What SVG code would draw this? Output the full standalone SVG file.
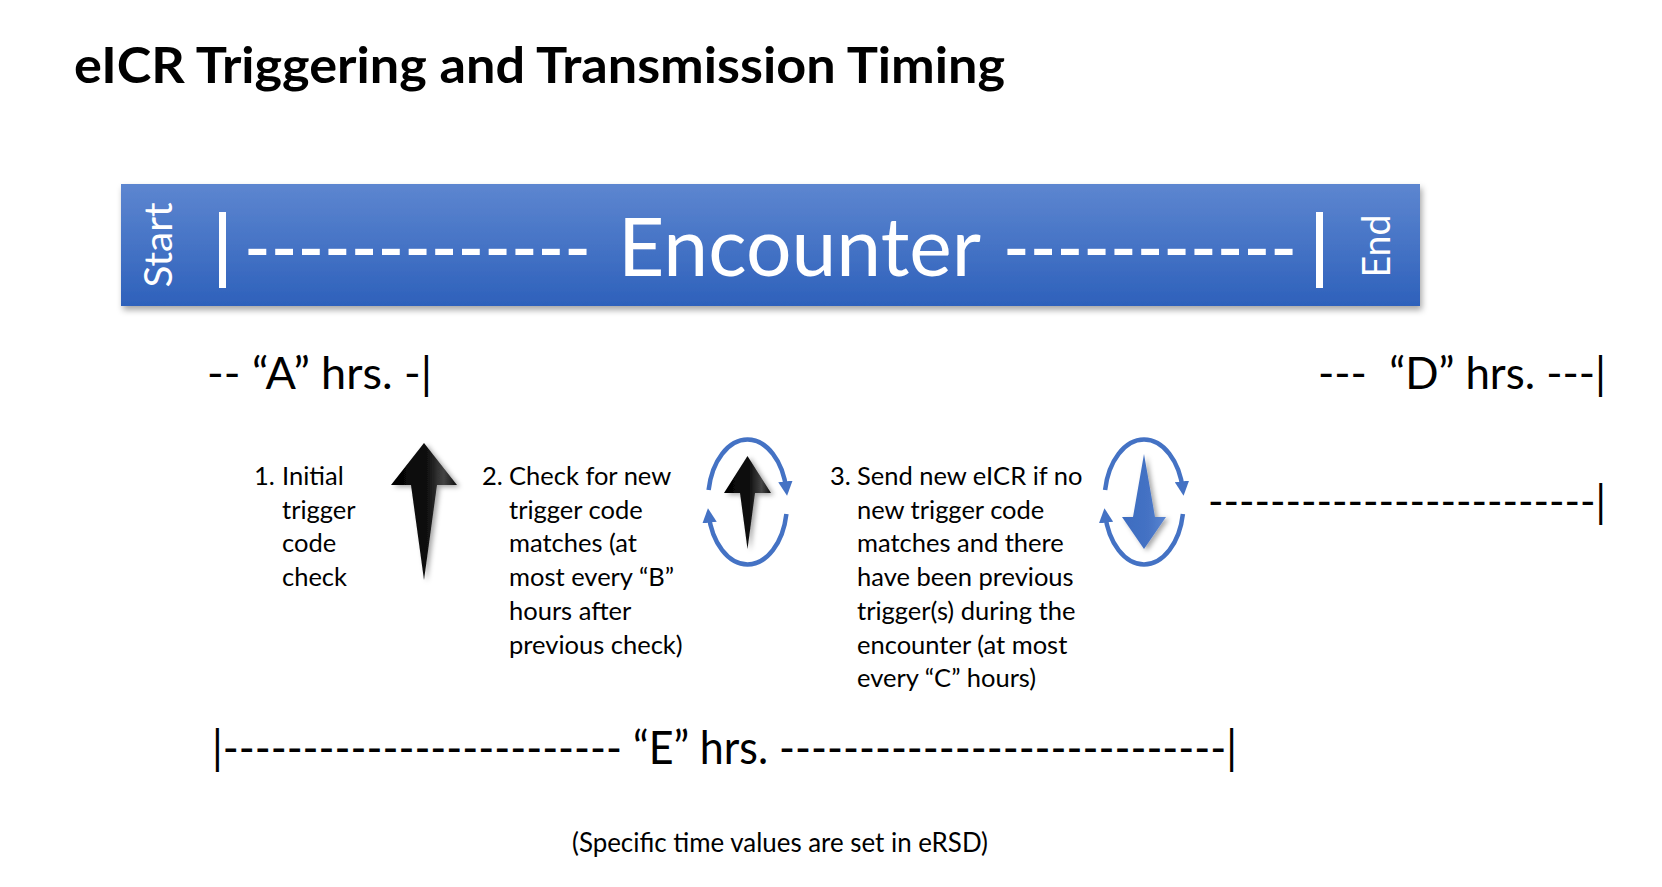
<svg xmlns="http://www.w3.org/2000/svg" width="1662" height="887" viewBox="0 0 1662 887">
<defs>
  <linearGradient id="barGrad" x1="0" y1="0" x2="0" y2="1">
    <stop offset="0" stop-color="#5d86d0"/>
    <stop offset="1" stop-color="#2e61bb"/>
  </linearGradient>
  <linearGradient id="blackGrad" x1="0" y1="0" x2="1" y2="0">
    <stop offset="0" stop-color="#000"/>
    <stop offset="0.55" stop-color="#111"/>
    <stop offset="0.8" stop-color="#444"/>
    <stop offset="1" stop-color="#111"/>
  </linearGradient>
  <linearGradient id="blueGrad" x1="0" y1="0" x2="1" y2="0">
    <stop offset="0" stop-color="#3d6cc0"/>
    <stop offset="0.6" stop-color="#4472c4"/>
    <stop offset="1" stop-color="#5b86d2"/>
  </linearGradient>
  <filter id="shadow" x="-10%" y="-20%" width="120%" height="150%">
    <feDropShadow dx="2" dy="4" stdDeviation="3" flood-color="#000" flood-opacity="0.35"/>
  </filter>
  <filter id="ashadow" x="-50%" y="-20%" width="200%" height="140%">
    <feDropShadow dx="3" dy="2" stdDeviation="2.5" flood-color="#000" flood-opacity="0.35"/>
  </filter>
  <marker id="cyc" viewBox="0 0 10 10" refX="6" refY="5" markerWidth="3.2" markerHeight="3.2" orient="auto" markerUnits="strokeWidth">
    <path d="M0,0 L10,5 L0,10 z" fill="#4472c4"/>
  </marker>
  <style>
    .t { font-family: Lato, "Liberation Sans", sans-serif; fill: #000; }
    .w { font-family: Lato, "Liberation Sans", sans-serif; fill: #fff; }
    .body { font-size: 25.5px; }
    .big { font-size: 44px; }
    .cyc { fill: none; stroke: #4472c4; stroke-width: 4.5; marker-end: url(#cyc); }
  </style>
</defs>
<rect width="1662" height="887" fill="#fff"/>

<g id="title">
  <text class="t" x="74" y="83" font-size="50" font-weight="bold" textLength="931" lengthAdjust="spacingAndGlyphs">eICR Triggering and Transmission Timing</text>
</g>

<g id="encounter-bar">
  <rect x="121" y="184" width="1299" height="122" fill="url(#barGrad)" filter="url(#shadow)"/>
  <text class="w" transform="translate(172,245) rotate(-90)" text-anchor="middle" font-size="38" textLength="85" lengthAdjust="spacingAndGlyphs">Start</text>
  <rect x="219" y="212" width="7" height="76" fill="#fff"/>
  <text class="w" x="244" y="276" font-size="82" textLength="347" lengthAdjust="spacingAndGlyphs">-------------</text>
  <text class="w" x="618" y="276" font-size="82" textLength="363" lengthAdjust="spacingAndGlyphs">Encounter</text>
  <text class="w" x="1003" y="276" font-size="82" textLength="294" lengthAdjust="spacingAndGlyphs">-----------</text>
  <rect x="1316" y="212" width="7" height="76" fill="#fff"/>
  <text class="w" transform="translate(1390,246) rotate(-90)" text-anchor="middle" font-size="38" textLength="63" lengthAdjust="spacingAndGlyphs">End</text>
</g>

<g id="a-hours">
  <text class="t big" x="207" y="389" textLength="225" lengthAdjust="spacingAndGlyphs">-- “A” hrs. -|</text>
</g>
<g id="d-hours">
  <text class="t big" x="1318" y="389" xml:space="preserve" textLength="288" lengthAdjust="spacingAndGlyphs">---  “D” hrs. ---|</text>
</g>

<g id="step1">
  <text class="t body" x="254" y="485">1.</text>
  <text class="t body" x="282" y="485">Initial</text>
  <text class="t body" x="282" y="519">trigger</text>
  <text class="t body" x="282" y="552">code</text>
  <text class="t body" x="282" y="586">check</text>
  <path d="M424,443 L457,485 L437,485 L424,580 L411,485 L391,485 Z" fill="url(#blackGrad)" filter="url(#ashadow)"/>
</g>

<g id="step2">
  <text class="t body" x="482" y="485">2.</text>
  <text class="t body" x="509" y="485">Check for new</text>
  <text class="t body" x="509" y="519">trigger code</text>
  <text class="t body" x="509" y="552">matches (at</text>
  <text class="t body" x="509" y="586">most every “B”</text>
  <text class="t body" x="509" y="620">hours after</text>
  <text class="t body" x="509" y="654">previous check)</text>
</g>

<g id="cycle1">
  <path class="cyc" d="M708.6,490 A39.5,61 0 0 1 786.4,490"/>
  <path class="cyc" d="M786.4,514 A39.5,61 0 0 1 708.6,514"/>
  <path d="M747.5,456 L771,493 L755,493 L747.5,549 L740,493 L724,493 Z" fill="url(#blackGrad)" filter="url(#ashadow)"/>
</g>

<g id="step3">
  <text class="t body" x="830" y="485">3.</text>
  <text class="t body" x="857" y="485">Send new eICR if no</text>
  <text class="t body" x="857" y="519">new trigger code</text>
  <text class="t body" x="857" y="552">matches and there</text>
  <text class="t body" x="857" y="586">have been previous</text>
  <text class="t body" x="857" y="620">trigger(s) during the</text>
  <text class="t body" x="857" y="654">encounter (at most</text>
  <text class="t body" x="857" y="687">every “C” hours)</text>
</g>

<g id="cycle2">
  <path class="cyc" d="M1105.1,490 A39.5,61 0 0 1 1182.9,490"/>
  <path class="cyc" d="M1182.9,514 A39.5,61 0 0 1 1105.1,514"/>
  <path d="M1144,454 L1155,517 L1166,517 L1144,549 L1122,517 L1133,517 Z" fill="url(#blueGrad)" filter="url(#ashadow)"/>
</g>

<g id="post-line">
  <text class="t big" x="1208" y="517" textLength="398" lengthAdjust="spacingAndGlyphs">-------------------------|</text>
</g>

<g id="e-hours">
  <text class="t" x="212" y="764" font-size="46" textLength="1025" lengthAdjust="spacingAndGlyphs">|------------------------- “E” hrs. ----------------------------|</text>
</g>

<g id="note">
  <text class="t" x="572" y="852" font-size="26" textLength="416" lengthAdjust="spacingAndGlyphs">(Specific time values are set in eRSD)</text>
</g>
</svg>
